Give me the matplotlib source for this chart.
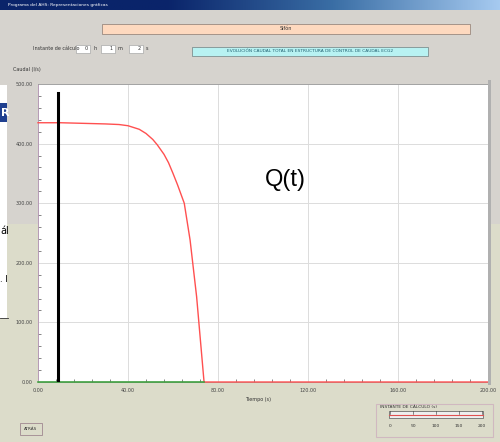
import numpy as np
import matplotlib.pyplot as plt
from matplotlib.patches import Rectangle
from matplotlib.colors import LinearSegmentedColormap

# datos
tiempo = [0, 10, 20, 30, 36, 40, 45, 48, 51, 53, 56, 58, 60, 62, 65, 67.6, 70.5, 73.8, 200]
caudal = [435, 435, 434, 433, 432, 430, 424, 417, 407, 398, 382, 368, 350, 331, 300, 238, 143, 0, 0]
t_verde = [0, 73.8]
q_verde = [0, 0]
t_cursor = 9
q_cursor_max = 485
xticks = [0, 40, 80, 120, 160, 200]
yticks = [0, 100, 200, 300, 400, 500]
slider_ticks = ["0", "50", "100", "150", "200"]

W, H = 500, 442
fig = plt.figure(figsize=(W / 100, H / 100), dpi=100)
fig.patch.set_facecolor('#d6d3ce')


def fx(x):
    return x / W


def fy(y):
    return 1 - y / H


def rect(x0, y0, x1, y1, **kw):
    fig.patches.append(Rectangle((fx(x0), fy(y1)), (x1 - x0) / W, (y1 - y0) / H,
                                 transform=fig.transFigure, **kw))


def txt(x, y, s, **kw):
    kw.setdefault('fontsize', 3.5)
    kw.setdefault('color', '#333333')
    kw.setdefault('va', 'center')
    fig.text(fx(x), fy(y), s, **kw)


# fondo: gris arriba, beige abajo (detrás del gráfico)
rect(0, 224, W, H, facecolor='#dcdcca', edgecolor='none', zorder=-10)

# barra de título
tb = fig.add_axes([0, fy(10), 1, 10 / H])
tb.imshow(np.linspace(0, 1, 256).reshape(1, -1),
          cmap=LinearSegmentedColormap.from_list('tb', ['#0a246a', '#0a246a', '#3a6ea5', '#a6caf0']),
          aspect='auto', extent=[0, 1, 0, 1])
tb.axis('off')
txt(8, 5, "Programa del AHS: Representaciones gráficas", color='white', fontsize=3.2)

# cabecera
rect(102, 24, 470, 34, facecolor='#fed9bf', edgecolor='#8a7a70', lw=0.5)
txt(286, 29, "Sifón", ha='center')
txt(33, 49, "Instante de cálculo")
for x0, u in [(76, "h"), (101, "m"), (129, "s")]:
    rect(x0, 45, x0 + 14, 53, facecolor='white', edgecolor='#999999', lw=0.4)
    txt(x0 + 17, 49, u)
txt(88, 49, "0", ha='right')
txt(113, 49, "1", ha='right')
txt(141, 49, "2", ha='right')
rect(192, 47, 428, 56, facecolor='#b8f2f2', edgecolor='#708080', lw=0.5)
txt(310, 51.5, "EVOLUCIÓN CAUDAL TOTAL EN ESTRUCTURA DE CONTROL DE CAUDAL ECG2",
    ha='center', color='#206070', fontsize=3.2)
txt(13, 70, "Caudal (l/s)")

# gráfico
ax = fig.add_axes([fx(38), fy(382), 450 / W, 298 / H])
ax.set_xlim(0, 200)
ax.set_ylim(0, 500)
ax.grid(True, color='#dcdcdc', lw=0.7)
ax.set_axisbelow(True)
ax.plot(tiempo, caudal, color='#ff5050', lw=1.0, clip_on=False, zorder=3)
ax.plot(t_verde, q_verde, color='#40a040', lw=1.2, clip_on=False, zorder=4)
ax.plot([t_cursor, t_cursor], [0, q_cursor_max], color='black', lw=2.2, zorder=5)
ax.set_xticks(xticks)
ax.set_yticks(yticks)
ax.set_xticklabels([f"{v:.2f}" for v in xticks])
ax.set_yticklabels([f"{v:.2f}" for v in yticks])
ax.set_xticks(np.arange(0, 201, 8), minor=True)
ax.set_yticks(np.arange(0, 501, 20), minor=True)
ax.tick_params(which='both', direction='in', length=2.5, width=0.5, color='#555555',
               labelsize=3.5, labelcolor='#444444', pad=4)
ax.tick_params(which='major', length=0)
for s in ax.spines.values():
    s.set_color('#999999')
    s.set_linewidth(0.6)
ax.spines['left'].set_color('#b090b0')
ax.text(110, 339, "Q(t)", fontsize=17, family='Liberation Sans', ha='center', va='center')
txt(258, 400, "Tiempo (s)", ha='center')

# borde derecho de la ventana
rect(488, 80, 491, 385, facecolor='#b0b0b0', edgecolor='none')

# deslizador
rect(376, 404, 493, 437, facecolor='none', edgecolor='#d0b8c0', lw=0.8)
txt(380, 407.5, "INSTANTE DE CÁLCULO (s)", fontsize=3.2)
rect(389, 411, 483, 418, facecolor='#eeeeee', edgecolor='#555555', lw=0.5)
fig.add_artist(plt.Line2D([fx(389), fx(483)], [fy(414.5), fy(414.5)], color='#e05050', lw=0.8))
for i, lab in enumerate(slider_ticks):
    xx = 390 + i * 23
    fig.add_artist(plt.Line2D([fx(xx), fx(xx)], [fy(411), fy(414)], color='#333333', lw=0.4))
    txt(xx, 426, lab, ha='center', fontsize=3.2)

# botón
rect(20, 423, 42, 435, facecolor='#dcdcca', edgecolor='#a08890', lw=0.6)
txt(31, 429, "ATRÁS", ha='center', fontsize=3.0)

# restos de la diapositiva a la izquierda
rect(0, 85, 7, 318, facecolor='white', edgecolor='none')
rect(0, 103, 7, 122, facecolor='#1f3f8f', edgecolor='none')
txt(0.5, 112.5, "R", color='white', fontsize=8, weight='bold')
txt(0, 231, "ál", fontsize=7, color='black')
txt(0, 279, ". I", fontsize=6, color='black')
fig.add_artist(plt.Line2D([0, fx(8)], [fy(318), fy(318)], color='#333333', lw=0.6))

fig.savefig('out.png', dpi=100)
